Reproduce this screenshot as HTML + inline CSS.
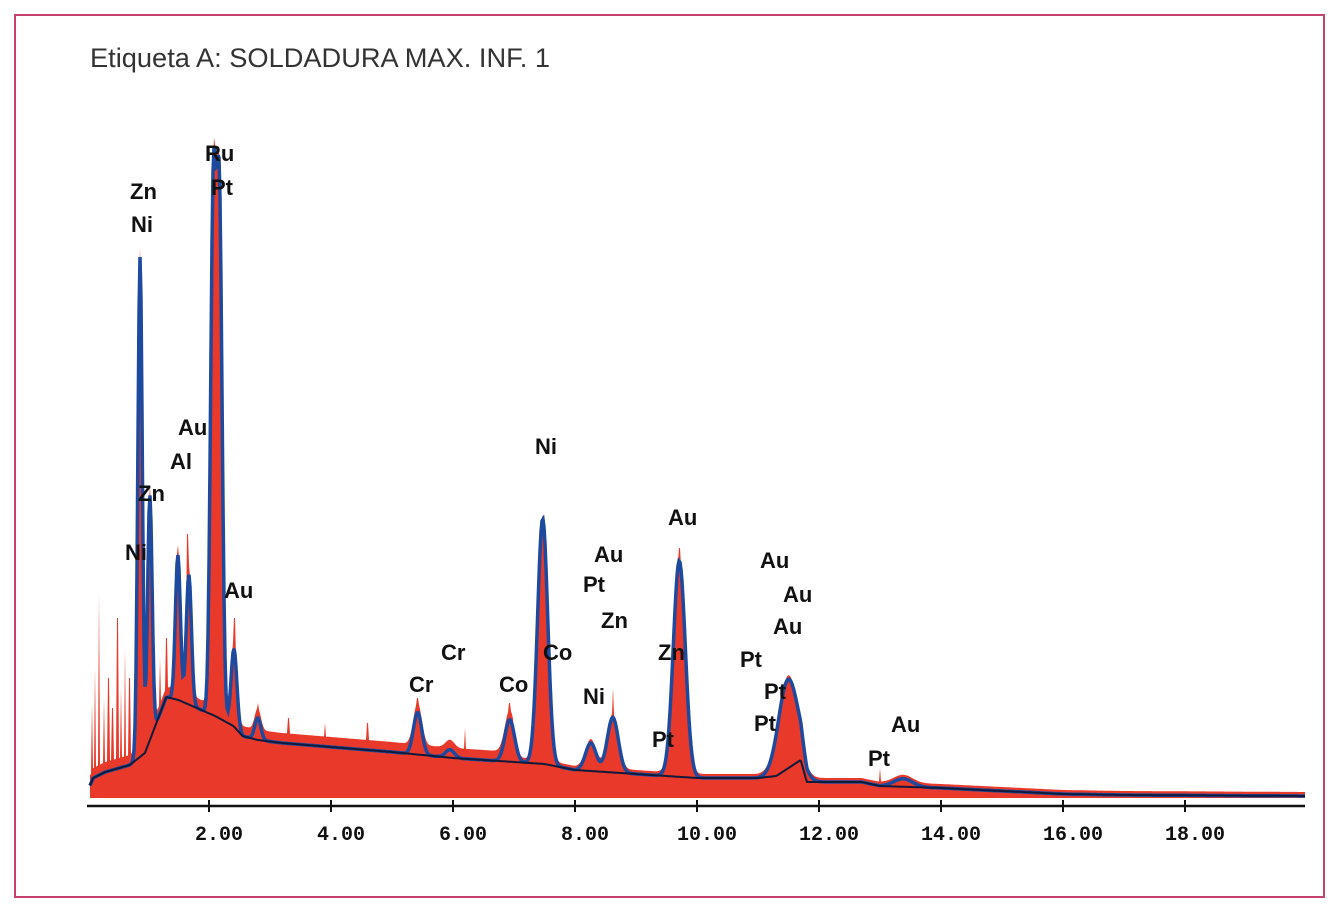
<!DOCTYPE html>
<html><head><meta charset="utf-8"><style>
html,body{margin:0;padding:0;background:#fff;}
svg{display:block;}
.lbl{font-family:"Liberation Sans",Arial,sans-serif;font-weight:bold;font-size:22px;fill:#111;}
.tk{font-family:"Liberation Mono",monospace;font-weight:bold;font-size:20px;fill:#111;}
</style></head><body>
<svg id="chart" width="1337" height="916" viewBox="0 0 1337 916">
<rect x="15" y="15" width="1309" height="882" fill="#fff" stroke="#c4406e" stroke-width="2"/>
<text x="90" y="67" font-family="Liberation Sans, Arial, sans-serif" font-size="27" fill="#333" textLength="460" lengthAdjust="spacingAndGlyphs">Etiqueta A: SOLDADURA MAX. INF. 1</text>
<g id="plot"></g>
</svg>
<script>
// Data (energy keV, counts in pixel units above baseline)
const bgE = [0.0,0.1,0.3,0.7,0.95,1.3,1.5,1.8,2.1,2.4,2.55,2.8,3.2,4.0,5.0,6.0,7.0,7.5,8.0,9.0,10.0,11.0,11.3,11.7,11.8,12.7,13.0,14.0,15.0,16.0,17.0,20.0];
const bgC = [5,20,26,33,45,101,98,90,82,72,62,58,55,51,46,40,36,34,28,24,20,20,22,38,16,16,12,10,7,4,3,2];
const peakE = [0.87,1.03,1.49,1.67,2.07,2.17,2.41,2.8,5.42,5.95,6.93,7.47,8.26,8.62,9.71,11.44,11.58,13.38];
const peakH = [500,245,145,130,510,510,78,22,42,8,42,245,28,55,216,60,40,8];
const spikeE = [0.08,0.13,0.2,0.28,0.35,0.42,0.5,0.56,0.62,0.7,1.2,1.3,1.65,2.42,2.8,3.3,3.9,4.6,5.42,6.2,6.93,8.62,9.71,11.5,13.0];
const spikeC = [95,130,205,100,120,90,180,110,150,120,140,160,264,180,95,80,75,75,100,70,95,110,250,110,30];
const tickVals = [2,4,6,8,10,12,14,16,18];
const tickLabels = ["2.00","4.00","6.00","8.00","10.00","12.00","14.00","16.00","18.00"];

const X0 = 87, KX = 61, Y0 = 798, AXY = 806;
const xs = e => X0 + KX*e;
const ys = c => Y0 - c;
const NS = "http://www.w3.org/2000/svg";
const plot = document.getElementById('plot');

function bg(e){
  if (e <= bgE[0]) return bgC[0];
  for (let i=1;i<bgE.length;i++){
    if (e <= bgE[i]){const t=(e-bgE[i-1])/(bgE[i]-bgE[i-1]);return bgC[i-1]+t*(bgC[i]-bgC[i-1]);}
  }
  return bgC[bgC.length-1];
}
function peaks(e){
  let c = 0;
  for (let i=0;i<peakE.length;i++){
    const s = 0.03 + 0.007*peakE[i] + (peakE[i]>11?0.03:0);
    const d = (e-peakE[i])/s;
    c += peakH[i]*Math.exp(-0.5*d*d);
  }
  return c;
}
function model(e){ return bg(e) + peaks(e); }
function redC(e){
  let c = bg(e) + (e < 7 ? 10 : 4) + peaks(e);
  for (let i=0;i<spikeE.length;i++){
    if (Math.abs(e-spikeE[i]) < 0.012) c = Math.max(c, spikeC[i]);
  }
  return c;
}

// red filled spectrum
let d = "M90 " + Y0;
for (let px=90; px<=1305; px++){
  const e = (px - X0)/KX;
  d += " L" + px + " " + ys(redC(e)).toFixed(1);
}
d += " L1305 " + Y0 + " Z";
const red = document.createElementNS(NS,'path');
red.setAttribute('d', d);
red.setAttribute('fill', '#e8392a');


plot.appendChild(red);

// blue fitted line
let bl = "";
for (let px=90; px<=1305; px++){
  const e = (px - X0)/KX;
  bl += (bl?" L":"M") + px + " " + ys(model(e)).toFixed(1);
}
const blue = document.createElementNS(NS,'path');
blue.setAttribute('d', bl);
blue.setAttribute('fill', 'none');
blue.setAttribute('stroke', '#1d4a9e');
blue.setAttribute('stroke-width', '3.5');


plot.appendChild(blue);

// background line
let bk = "";
for (let px=90; px<=1305; px++){
  const e = (px - X0)/KX;
  bk += (bk?" L":"M") + px + " " + ys(bg(e)).toFixed(1);
}
const bgl = document.createElementNS(NS,'path');
bgl.setAttribute('d', bk);
bgl.setAttribute('fill', 'none');
bgl.setAttribute('stroke', '#111a3a');
bgl.setAttribute('stroke-width', '2');


plot.appendChild(bgl);

// axis
const ax = document.createElementNS(NS,'line');
ax.setAttribute('x1', 87); ax.setAttribute('x2', 1305);
ax.setAttribute('y1', AXY); ax.setAttribute('y2', AXY);
ax.setAttribute('stroke', '#111'); ax.setAttribute('stroke-width', '2.5');


plot.appendChild(ax);
tickVals.forEach((v,i)=>{
  const t = document.createElementNS(NS,'line');
  t.setAttribute('x1', xs(v)); t.setAttribute('x2', xs(v));
  t.setAttribute('y1', AXY-6); t.setAttribute('y2', AXY+6);
  t.setAttribute('stroke', '#111'); t.setAttribute('stroke-width', '2');
  
  
  plot.appendChild(t);
  const tl = document.createElementNS(NS,'text');
  tl.setAttribute('x', xs(v)+10); tl.setAttribute('y', 840);
  tl.setAttribute('text-anchor', 'middle');
  tl.setAttribute('class', 'tk');
  tl.textContent = tickLabels[i];
  
  
  plot.appendChild(tl);
});

// element labels (annotation positions in pixels)
const labTxt = ["Zn","Ni","Ru","Pt","Au","Al","Zn","Ni","Au","Cr","Cr","Co","Co","Ni","Au","Pt","Zn","Ni","Zn","Pt","Au","Au","Au","Au","Pt","Pt","Pt","Au","Pt"];
const labX = [130,131,205,211,178,170,138,125,224,441,409,499,543,535,594,583,601,583,658,652,668,760,783,773,740,764,754,891,868];
const labY = [191,224,153,187,427,461,493,552,590,652,684,684,652,446,554,584,620,696,652,739,517,560,594,626,659,691,723,724,758];
labTxt.forEach((s,i)=>{
  const t = document.createElementNS(NS,'text');
  t.setAttribute('x', labX[i]); t.setAttribute('y', labY[i]+8);
  t.setAttribute('class', 'lbl');
  t.textContent = s;
  
  
  plot.appendChild(t);
});
</script>
</body></html>
